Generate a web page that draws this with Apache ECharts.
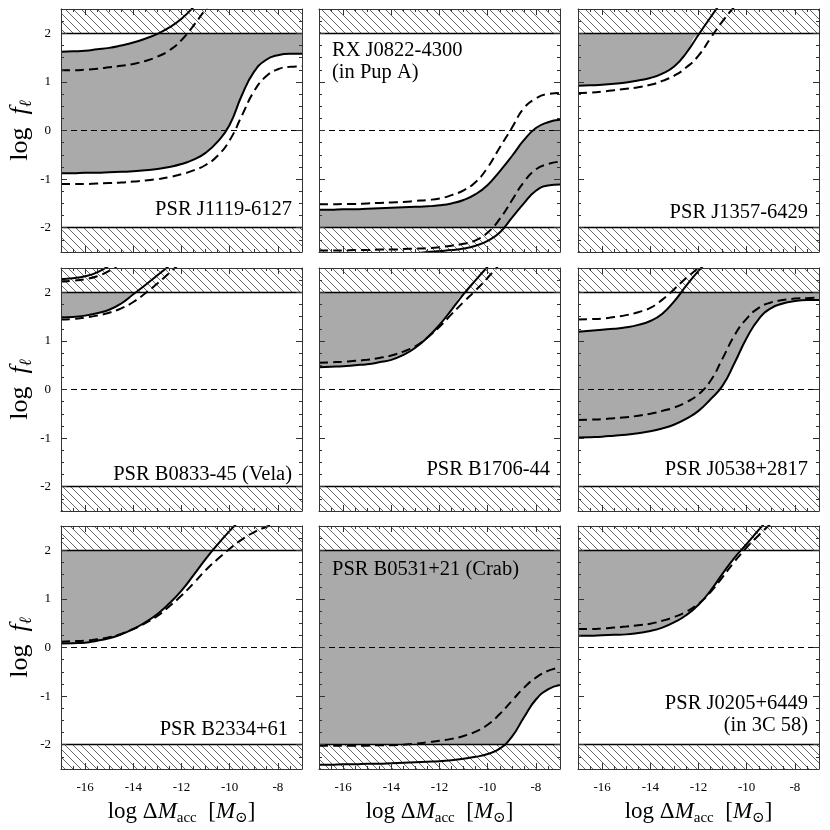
<!DOCTYPE html>
<html>
<head>
<meta charset="utf-8">
<script src="https://cdn.jsdelivr.net/npm/echarts@6/dist/echarts.min.js"></script>
<style>
  html, body { margin: 0; padding: 0; background: #fff; }
  #chart { width: 830px; height: 830px; }
</style>
</head>
<body>
<div id="chart"></div>
<script>
// sample points along log dM_acc
const xs = [-17, -16.5, -16, -15.5, -15, -14.5, -14, -13.5, -13, -12.5, -12, -11.5, -11, -10.5, -10, -9.5, -9, -8.5, -8, -7.5, -7];

// PSR J1119-6127
const j1119SolidHi = [1.62, 1.63, 1.64, 1.67, 1.70, 1.75, 1.81, 1.89, 1.99, 2.12, 2.30, 2.54, 2.82, null, null, null, null, null, null, null, null];
const j1119SolidLo = [-0.88, -0.88, -0.87, -0.87, -0.86, -0.85, -0.84, -0.82, -0.79, -0.75, -0.69, -0.60, -0.46, -0.23, 0.12, 0.72, 1.20, 1.45, 1.55, 1.58, 1.58];
const j1119DashHi = [1.24, 1.24, 1.25, 1.27, 1.30, 1.33, 1.37, 1.43, 1.52, 1.65, 1.86, 2.16, 2.50, 2.85, null, null, null, null, null, null, null];
const j1119DashLo = [-1.10, -1.10, -1.10, -1.09, -1.08, -1.07, -1.05, -1.03, -1.00, -0.96, -0.90, -0.82, -0.71, -0.52, -0.20, 0.30, 0.80, 1.11, 1.26, 1.31, 1.32];

// RX J0822-4300
const j0822SolidHi = [-1.63, -1.63, -1.62, -1.62, -1.61, -1.60, -1.59, -1.58, -1.57, -1.56, -1.54, -1.50, -1.43, -1.31, -1.12, -0.84, -0.53, -0.20, 0.05, 0.17, 0.22];
const j0822SolidLo = [null, null, null, null, null, null, null, null, -2.53, -2.50, -2.48, -2.46, -2.43, -2.37, -2.27, -2.10, -1.80, -1.50, -1.24, -1.13, -1.11];
const j0822DashHi = [-1.52, -1.52, -1.51, -1.51, -1.50, -1.49, -1.48, -1.47, -1.45, -1.43, -1.40, -1.33, -1.23, -1.06, -0.76, -0.35, 0.05, 0.46, 0.66, 0.75, 0.77];
const j0822DashLo = [-2.47, -2.47, -2.47, -2.46, -2.46, -2.45, -2.45, -2.44, -2.43, -2.42, -2.40, -2.37, -2.33, -2.26, -2.10, -1.82, -1.44, -1.06, -0.80, -0.69, -0.64];

// PSR J1357-6429
const j1357Solid = [0.92, 0.93, 0.94, 0.96, 0.99, 1.03, 1.08, 1.17, 1.32, 1.60, 1.97, 2.33, 2.68, null, null, null, null, null, null, null, null];
const j1357Dash = [0.77, 0.78, 0.80, 0.83, 0.86, 0.89, 0.94, 1.02, 1.13, 1.30, 1.54, 1.90, 2.25, 2.55, 2.80, null, null, null, null, null, null];

// PSR B0833-45 (Vela)
const velaSolidHi = [2.27, 2.29, 2.33, 2.41, 2.55, 2.75, null, null, null, null, null, null, null, null, null, null, null, null, null, null, null];
const velaSolidLo = [1.48, 1.49, 1.52, 1.57, 1.64, 1.77, 1.96, 2.15, 2.35, 2.55, 2.75, null, null, null, null, null, null, null, null, null, null];
const velaDashHi = [2.22, 2.24, 2.27, 2.33, 2.44, 2.60, null, null, null, null, null, null, null, null, null, null, null, null, null, null, null];
const velaDashLo = [1.44, 1.45, 1.48, 1.52, 1.58, 1.67, 1.80, 1.98, 2.18, 2.40, 2.62, null, null, null, null, null, null, null, null, null, null];

// PSR B1706-44
const b1706Solid = [0.46, 0.47, 0.48, 0.50, 0.52, 0.56, 0.61, 0.71, 0.86, 1.07, 1.33, 1.64, 1.96, 2.25, 2.53, null, null, null, null, null, null];
const b1706Dash = [0.55, 0.56, 0.57, 0.59, 0.61, 0.65, 0.70, 0.78, 0.89, 1.07, 1.29, 1.55, 1.80, 2.04, 2.30, 2.58, null, null, null, null, null];

// PSR J0538+2817
const j0538SolidHi = [1.19, 1.21, 1.23, 1.25, 1.28, 1.33, 1.41, 1.56, 1.82, 2.14, 2.44, 2.70, null, null, null, null, null, null, null, null, null];
const j0538SolidLo = [-0.99, -0.98, -0.97, -0.95, -0.93, -0.90, -0.86, -0.80, -0.72, -0.60, -0.44, -0.20, 0.08, 0.55, 1.06, 1.45, 1.67, 1.77, 1.82, 1.84, 1.84];
const j0538DashHi = [1.44, 1.45, 1.46, 1.49, 1.53, 1.59, 1.68, 1.85, 2.07, 2.30, 2.50, 2.70, null, null, null, null, null, null, null, null, null];
const j0538DashLo = [-0.63, -0.62, -0.61, -0.59, -0.57, -0.54, -0.50, -0.44, -0.37, -0.26, -0.10, 0.18, 0.64, 1.12, 1.46, 1.68, 1.79, 1.84, 1.87, 1.88, 1.89];

// PSR B2334+61
const b2334Solid = [0.08, 0.09, 0.10, 0.14, 0.19, 0.27, 0.38, 0.52, 0.69, 0.91, 1.17, 1.49, 1.82, 2.12, 2.40, 2.65, null, null, null, null, null];
const b2334Dash = [0.12, 0.13, 0.14, 0.17, 0.21, 0.28, 0.38, 0.50, 0.65, 0.85, 1.07, 1.32, 1.59, 1.82, 2.03, 2.22, 2.37, 2.48, 2.56, null, null];

// PSR B0531+21 (Crab)
const crabSolid = [-2.41, -2.41, -2.40, -2.40, -2.39, -2.39, -2.38, -2.37, -2.36, -2.35, -2.34, -2.32, -2.29, -2.25, -2.19, -2.08, -1.84, -1.44, -1.07, -0.86, -0.77];
const crabDash = [-2.02, -2.02, -2.02, -2.02, -2.02, -2.01, -2.01, -2.00, -1.98, -1.95, -1.92, -1.88, -1.82, -1.73, -1.59, -1.37, -1.10, -0.83, -0.62, -0.48, -0.41];

// PSR J0205+6449
const j0205Solid = [0.24, 0.24, 0.25, 0.26, 0.27, 0.30, 0.34, 0.41, 0.52, 0.67, 0.88, 1.17, 1.52, 1.85, 2.13, 2.42, 2.70, null, null, null, null];
const j0205Dash = [0.38, 0.38, 0.39, 0.41, 0.43, 0.46, 0.49, 0.55, 0.63, 0.74, 0.90, 1.14, 1.45, 1.77, 2.06, 2.31, 2.55, null, null, null, null];

const panelNames = ['PSR J1119-6127', 'RX J0822-4300\n(in Pup A)', 'PSR J1357-6429',
  'PSR B0833-45 (Vela)', 'PSR B1706-44', 'PSR J0538+2817',
  'PSR B2334+61', 'PSR B0531+21 (Crab)', 'PSR J0205+6449\n(in 3C 58)'];
const limits = [2, -2];

// hi/lo = solid curves bounding the allowed (gray) band
const panels = [
  { hi: j1119SolidHi, lo: j1119SolidLo, dashed: [j1119DashHi, j1119DashLo] },
  { hi: j0822SolidHi, lo: j0822SolidLo, dashed: [j0822DashHi, j0822DashLo] },
  { hi: null, lo: j1357Solid, dashed: [j1357Dash] },
  { hi: velaSolidHi, lo: velaSolidLo, dashed: [velaDashHi, velaDashLo] },
  { hi: null, lo: b1706Solid, dashed: [b1706Dash] },
  { hi: j0538SolidHi, lo: j0538SolidLo, dashed: [j0538DashHi, j0538DashLo] },
  { hi: null, lo: b2334Solid, dashed: [b2334Dash] },
  { hi: null, lo: crabSolid, dashed: [crabDash] },
  { hi: null, lo: j0205Solid, dashed: [j0205Dash] }
];

// layout
const colLeft = [61, 319, 578];
const rowTop = [9, 268, 526];
const pw = 241, ph = 243;
const serif = '"Liberation Serif", "DejaVu Serif", serif';
const smooth = 0.5;
// label anchors: [x, y, align]
const labelPos = [
  [292, 210, 'right'], [332, 62, 'left'], [808, 213, 'right'],
  [292, 475, 'right'], [550, 470, 'right'], [808, 470, 'right'],
  [288, 730, 'right'], [332, 570, 'left'], [808, 715, 'right']
];

// hatch pattern (white background, \\\ lines)
const hatch = document.createElement('canvas');
hatch.width = 8; hatch.height = 8;
const hc = hatch.getContext('2d');
hc.fillStyle = '#fff';
hc.fillRect(0, 0, 8, 8);
hc.strokeStyle = '#6a6a6a';
hc.lineWidth = 1;
[-8, 0, 8].forEach(k => {
  hc.beginPath(); hc.moveTo(k, 0); hc.lineTo(k + 8, 8); hc.stroke();
});

// out-of-range (null) points -> +/- big, from nearest known neighbour
function fillOut (arr, fallback) {
  if (!arr) return xs.map(() => fallback);
  return arr.map((v, k) => {
    if (v != null) return v;
    for (let d = 1; d < arr.length; d++) {
      const a = arr[k - d], b = arr[k + d];
      if (a != null) return a > 0 ? 99 : -99;
      if (b != null) return b > 0 ? 99 : -99;
    }
    return fallback;
  });
}
const clamp = v => Math.max(-2, Math.min(2, v));

const grids = [], xAxes = [], yAxes = [], series = [], graphics = [];

function axisCommon (showLabel) {
  return {
    z: 6,
    axisLine: { show: true, onZero: false, lineStyle: { color: '#333', width: 1 } },
    axisTick: { show: true, inside: true, length: 6, lineStyle: { color: '#333', width: 1 } },
    minorTick: { show: true, splitNumber: 4, length: 3, lineStyle: { color: '#333', width: 1 } },
    splitLine: { show: false },
    axisLabel: {
      show: showLabel, showMinLabel: false, showMaxLabel: false,
      fontFamily: serif, fontSize: 13, color: '#000'
    }
  };
}

panels.forEach((p, i) => {
  const r = Math.floor(i / 3), c = i % 3;
  grids.push({ left: colLeft[c], top: rowTop[r], width: pw, height: ph, outerBoundsMode: 'none' });

  const xb = axisCommon(r === 2);
  xb.axisLabel.margin = 12;
  xAxes.push(Object.assign({ gridIndex: i, type: 'value', min: -17, max: -7, splitNumber: 5, position: 'bottom' }, xb));
  xAxes.push(Object.assign({ gridIndex: i, type: 'value', min: -17, max: -7, splitNumber: 5, position: 'top' }, axisCommon(false)));
  const yl = axisCommon(c === 0);
  yl.axisLabel.margin = 10;
  yAxes.push(Object.assign({ gridIndex: i, type: 'value', min: -2.5, max: 2.5, splitNumber: 5, position: 'left' }, yl));
  yAxes.push(Object.assign({ gridIndex: i, type: 'value', min: -2.5, max: 2.5, splitNumber: 5, position: 'right' }, axisCommon(false)));

  const xi = 2 * i, yi = 2 * i;
  const lower = fillOut(p.lo, -99).map(clamp);
  const upper = fillOut(p.hi, 99).map(clamp);

  // gray band: gray fill up to the upper bound, then white fill up to the lower bound
  series.push({
    type: 'line', xAxisIndex: xi, yAxisIndex: yi, z: 1,
    data: xs.map((x, k) => [x, upper[k]]),
    symbol: 'none', smooth: smooth, silent: true,
    lineStyle: { width: 0, opacity: 0 },
    areaStyle: { color: '#aaaaaa', opacity: 1, origin: 'start' }
  });
  series.push({
    type: 'line', xAxisIndex: xi, yAxisIndex: yi, z: 2,
    data: xs.map((x, k) => [x, lower[k]]),
    symbol: 'none', smooth: smooth, silent: true,
    lineStyle: { width: 0, opacity: 0 },
    areaStyle: { color: '#ffffff', opacity: 1, origin: 'start' }
  });

  // excluded regions and reference lines
  series.push({
    type: 'line', xAxisIndex: xi, yAxisIndex: yi, data: [], silent: true, z: 3,
    markArea: {
      silent: true, z: 3,
      itemStyle: { color: { image: hatch, repeat: 'repeat' } },
      data: [[{ yAxis: limits[0] }, { yAxis: 2.5 }], [{ yAxis: -2.5 }, { yAxis: limits[1] }]]
    },
    markLine: {
      silent: true, z: 4, symbol: 'none', animation: false,
      label: { show: false },
      data: [
        { yAxis: limits[0], lineStyle: { color: '#000', width: 1.3, type: 'solid' } },
        { yAxis: limits[1], lineStyle: { color: '#000', width: 1.3, type: 'solid' } },
        { yAxis: 0, lineStyle: { color: '#000', width: 1, type: [6, 4] } }
      ]
    }
  });

  // curves
  const solids = [p.hi, p.lo].filter(a => a);
  solids.forEach(arr => series.push({
    type: 'line', xAxisIndex: xi, yAxisIndex: yi, z: 5,
    data: xs.map((x, k) => [x, arr[k]]),
    symbol: 'none', smooth: smooth, silent: true,
    lineStyle: { color: '#000', width: 2 }
  }));
  p.dashed.forEach(arr => series.push({
    type: 'line', xAxisIndex: xi, yAxisIndex: yi, z: 5,
    data: xs.map((x, k) => [x, arr[k]]),
    symbol: 'none', smooth: smooth, silent: true,
    lineStyle: { color: '#000', width: 2, type: [9, 5] }
  }));

  const lp = labelPos[i];
  graphics.push({
    type: 'text', x: lp[0], y: lp[1], z: 10, silent: true,
    style: {
      text: panelNames[i], align: lp[2], verticalAlign: 'middle',
      font: '20.5px ' + serif, fill: '#000', lineHeight: 22
    }
  });
});

// axis titles
const titleRich = {
  n: { fontFamily: serif, fontSize: 23, lineHeight: 28, fill: '#000', verticalAlign: 'middle' },
  i: { fontFamily: serif, fontSize: 23, fontStyle: 'italic', lineHeight: 28, fill: '#000', verticalAlign: 'middle' },
  s: { fontFamily: serif, fontSize: 15, lineHeight: 12, fill: '#000', verticalAlign: 'bottom' },
  yn: { fontFamily: serif, fontSize: 26, lineHeight: 30, fill: '#000', verticalAlign: 'middle' },
  yi: { fontFamily: serif, fontSize: 26, fontStyle: 'italic', lineHeight: 30, fill: '#000', verticalAlign: 'middle' },
  ys: { fontFamily: serif, fontSize: 17, fontStyle: 'italic', lineHeight: 12, fill: '#000', verticalAlign: 'bottom' }
};
rowTop.forEach(t => graphics.push({
  type: 'text', x: 20, y: t + ph / 2, rotation: Math.PI / 2, silent: true,
  style: { text: '{yn|log  }{yi|f}{ys|ℓ}', rich: titleRich, align: 'center', verticalAlign: 'middle' }
}));
colLeft.forEach(l => graphics.push({
  type: 'text', x: l + pw / 2, y: 812, silent: true,
  style: { text: '{n|log Δ}{i|M}{s|acc}{n|  [}{i|M}{s|⊙}{n|]}', rich: titleRich, align: 'center', verticalAlign: 'middle' }
}));

const chart = echarts.init(document.getElementById('chart'), null, { renderer: 'canvas' });
chart.setOption({
  animation: false,
  backgroundColor: '#fff',
  grid: grids,
  xAxis: xAxes,
  yAxis: yAxes,
  series: series,
  graphic: graphics
});
</script>
</body>
</html>
